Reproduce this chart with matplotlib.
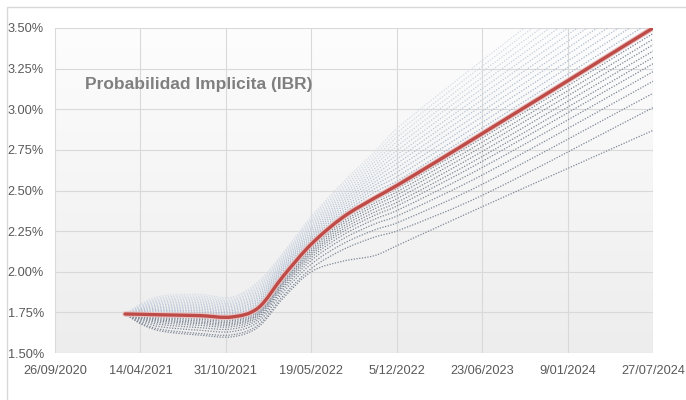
import matplotlib
matplotlib.use("Agg")
import numpy as np
import matplotlib.pyplot as plt
import matplotlib.dates as mdates
import matplotlib.patheffects as pe
from matplotlib.colors import LinearSegmentedColormap, to_rgb
from matplotlib.patches import Rectangle, PathPatch
from matplotlib.path import Path

# sample dates of the curves
dates = np.array([
    "2021-03-09", "2021-04-20", "2021-06-01", "2021-09-01", "2021-11-15",
    "2022-01-15", "2022-03-15", "2022-05-19", "2022-08-01", "2022-10-15",
    "2022-12-05", "2023-06-23", "2024-07-27",
], dtype="datetime64[D]")

# central IBR path (%)
central = [1.740, 1.738, 1.735, 1.730, 1.722, 1.778, 1.975, 2.170, 2.335, 2.455, 2.530, 2.850, 3.500]

# scenario paths above the central one (%)
upper_paths = [
    [1.74, 1.744, 1.744, 1.740, 1.731, 1.790, 1.986, 2.183, 2.356, 2.491, 2.557, 2.885, 3.546],
    [1.74, 1.749, 1.753, 1.750, 1.741, 1.803, 1.997, 2.196, 2.372, 2.512, 2.584, 2.919, 3.592],
    [1.74, 1.755, 1.762, 1.760, 1.750, 1.815, 2.008, 2.209, 2.388, 2.532, 2.611, 2.954, 3.638],
    [1.74, 1.760, 1.770, 1.770, 1.760, 1.828, 2.020, 2.222, 2.405, 2.553, 2.638, 2.988, 3.685],
    [1.74, 1.766, 1.779, 1.780, 1.769, 1.840, 2.031, 2.235, 2.421, 2.574, 2.665, 3.023, 3.731],
    [1.74, 1.771, 1.788, 1.790, 1.779, 1.853, 2.042, 2.248, 2.437, 2.595, 2.692, 3.058, 3.777],
    [1.74, 1.777, 1.797, 1.800, 1.788, 1.865, 2.053, 2.262, 2.453, 2.615, 2.718, 3.092, 3.823],
    [1.74, 1.782, 1.806, 1.810, 1.798, 1.878, 2.064, 2.275, 2.469, 2.636, 2.745, 3.127, 3.869],
    [1.74, 1.788, 1.815, 1.820, 1.807, 1.890, 2.075, 2.288, 2.485, 2.657, 2.772, 3.162, 3.915],
    [1.74, 1.793, 1.823, 1.830, 1.817, 1.903, 2.087, 2.301, 2.502, 2.678, 2.799, 3.196, 3.962],
    [1.74, 1.799, 1.832, 1.840, 1.826, 1.915, 2.098, 2.314, 2.518, 2.698, 2.826, 3.231, 4.008],
    [1.74, 1.804, 1.841, 1.850, 1.836, 1.928, 2.109, 2.327, 2.534, 2.719, 2.853, 3.265, 4.054],
    [1.74, 1.810, 1.850, 1.860, 1.845, 1.940, 2.120, 2.340, 2.550, 2.740, 2.880, 3.300, 4.100],
]

# scenario paths below the central one (%)
lower_paths = [
    [1.74, 1.734, 1.729, 1.722, 1.714, 1.771, 1.967, 2.160, 2.322, 2.440, 2.510, 2.823, 3.466],
    [1.74, 1.730, 1.722, 1.715, 1.707, 1.763, 1.958, 2.149, 2.308, 2.424, 2.491, 2.797, 3.431],
    [1.74, 1.725, 1.716, 1.707, 1.699, 1.756, 1.950, 2.139, 2.294, 2.407, 2.471, 2.770, 3.397],
    [1.74, 1.721, 1.709, 1.698, 1.690, 1.748, 1.940, 2.127, 2.278, 2.388, 2.449, 2.740, 3.358],
    [1.74, 1.716, 1.702, 1.689, 1.681, 1.739, 1.931, 2.115, 2.262, 2.368, 2.426, 2.709, 3.319],
    [1.74, 1.711, 1.695, 1.681, 1.673, 1.731, 1.921, 2.103, 2.246, 2.348, 2.404, 2.679, 3.280],
    [1.74, 1.705, 1.686, 1.670, 1.662, 1.720, 1.909, 2.088, 2.226, 2.324, 2.376, 2.641, 3.231],
    [1.74, 1.698, 1.675, 1.656, 1.648, 1.708, 1.895, 2.070, 2.202, 2.295, 2.342, 2.595, 3.172],
    [1.74, 1.689, 1.661, 1.640, 1.632, 1.692, 1.877, 2.047, 2.172, 2.258, 2.300, 2.538, 3.098],
    [1.74, 1.678, 1.645, 1.620, 1.612, 1.673, 1.855, 2.020, 2.136, 2.214, 2.250, 2.470, 3.010],
    [1.74, 1.672, 1.635, 1.610, 1.600, 1.660, 1.840, 2.000, 2.065, 2.100, 2.160, 2.400, 2.870],
]

tick_dates = np.array([
    "2020-09-26", "2021-04-14", "2021-10-31", "2022-05-19",
    "2022-12-05", "2023-06-23", "2024-01-09", "2024-07-27",
], dtype="datetime64[D]")
tick_labels = ["26/09/2020", "14/04/2021", "31/10/2021", "19/05/2022",
               "5/12/2022", "23/06/2023", "9/01/2024", "27/07/2024"]
y_ticks = [1.50, 1.75, 2.00, 2.25, 2.50, 2.75, 3.00, 3.25, 3.50]

title = "Probabilidad Implicita (IBR)"


def smooth_path(x, y):
    """Smoothed line through the points (like a spreadsheet 'smoothed line'):
    cubic Hermite segments drawn as Bezier curves."""
    x = np.asarray(x, float)
    y = np.asarray(y, float)
    n = len(x)
    m = np.empty(n)
    m[0] = (y[1] - y[0]) / (x[1] - x[0])
    m[-1] = (y[-1] - y[-2]) / (x[-1] - x[-2])
    for i in range(1, n - 1):
        m[i] = (y[i + 1] - y[i - 1]) / (x[i + 1] - x[i - 1])
    verts = [(x[0], y[0])]
    codes = [Path.MOVETO]
    for i in range(n - 1):
        h = (x[i + 1] - x[i]) / 3
        verts += [(x[i] + h, y[i] + m[i] * h),
                  (x[i + 1] - h, y[i + 1] - m[i + 1] * h),
                  (x[i + 1], y[i + 1])]
        codes += [Path.CURVE4] * 3
    return Path(verts, codes)


plt.rcParams["font.family"] = ["Liberation Sans", "DejaVu Sans"]

fig = plt.figure(figsize=(6.86, 4.0), dpi=100)
ax = fig.add_axes([55 / 686, 1 - 353 / 400, 598 / 686, 325 / 400])

# soft vertical gradient behind the plot area
bg = LinearSegmentedColormap.from_list("bg", ["#fdfdfd", "#ededed"])
ax.imshow(np.linspace(0, 1, 256).reshape(-1, 1), cmap=bg, aspect="auto",
          extent=[0, 1, 0, 1], transform=ax.transAxes, zorder=0)

xnum = mdates.date2num(dates)
dots = (0, (1, 1.2))

n_up = len(upper_paths)
base = to_rgb("#9aabc4")
for i, path in enumerate(upper_paths):
    # paths further from the centre are paler
    light = 0.1 + 0.5 * i / (n_up - 1)
    col = tuple(c + (1 - c) * light for c in base)
    ax.add_patch(PathPatch(smooth_path(xnum, path), fill=False, edgecolor=col,
                           lw=0.9, ls=dots, zorder=2))

for path in lower_paths:
    ax.add_patch(PathPatch(smooth_path(xnum, path), fill=False, edgecolor="#7d8796",
                           lw=0.9, ls=dots, zorder=2))

ax.add_patch(PathPatch(smooth_path(xnum, central), fill=False, edgecolor="#bf4b48",
                       lw=2.4, zorder=4, capstyle="round",
                       path_effects=[pe.Stroke(linewidth=3.9, foreground="#e8c4c3"),
                                     pe.Normal()]))

ax.set_xlim(mdates.date2num(tick_dates[0]), mdates.date2num(tick_dates[-1]))
ax.set_ylim(1.5, 3.5)
ax.set_xticks(mdates.date2num(tick_dates))
ax.set_xticklabels(tick_labels)
ax.set_yticks(y_ticks)
ax.set_yticklabels([f"{v:.2f}%" for v in y_ticks])

ax.grid(True, color="#d9d9d9", lw=0.8, zorder=1)
ax.set_axisbelow(True)
for s in ax.spines.values():
    s.set_visible(False)
ax.tick_params(axis="both", length=0, labelsize=9.2, labelcolor="#595959")
ax.tick_params(axis="x", pad=9)
ax.tick_params(axis="y", pad=8)

# chart frame
fig.add_artist(Rectangle((7 / 686, -0.1), 1.2, 1 - 7 / 400 + 0.1,
                         transform=fig.transFigure, fill=False,
                         edgecolor="#d9d9d9", lw=1))

fig.text(85 / 686, 1 - 84 / 400, title, ha="left", va="center",
         fontsize=12.5, fontweight="bold", color="#7f7f7f")

fig.savefig("out.png", dpi=100)
